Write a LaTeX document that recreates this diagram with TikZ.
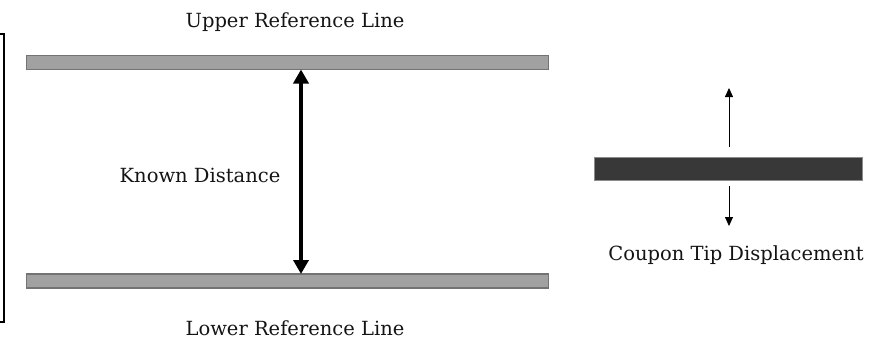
\documentclass[tikz,border=0pt]{standalone}
\usepackage{fontspec}
\setmainfont{DejaVu Serif}
\usetikzlibrary{arrows.meta}
\begin{document}
\begin{tikzpicture}[x=1pt,y=-1pt,
  refbar/.style={draw=black!55,line width=1.5pt,fill=black!37},
  coupon/.style={draw=black!45,line width=1pt,fill=black!78},
  lbl/.style={font=\fontsize{19.5}{22}\selectfont,text=black!92,inner sep=0pt},
  bigarrow/.style={line width=3.5pt,{Triangle[length=14pt,width=15pt]}-{Triangle[length=14pt,width=15pt]}},
  thinarrow/.style={line width=0.8pt,-{Triangle[length=9pt,width=8pt]}}]
\useasboundingbox (0,0) rectangle (892,340);
\draw[line width=1.2pt] (-10,34) -- (4,34) -- (4,322) -- (-10,322);
\node[refbar,minimum width=522pt,minimum height=14pt,inner sep=0pt] (upper) at (287.5,62.5) {};
\node[refbar,minimum width=522pt,minimum height=14pt,inner sep=0pt] (lower) at (287.5,281) {};
\coordinate (ua) at (301,69.5);
\coordinate (la) at (301,274);
\draw[bigarrow] (la) -- (ua);
\node[lbl] (ut) at (295,22) {Upper Reference Line};
\node[lbl] (lt) at (295,328) {Lower Reference Line};
\node[lbl] (kd) at (200,175) {Known Distance};
\node[coupon,minimum width=268pt,minimum height=23pt,inner sep=0pt] (cp) at (728.5,169) {};
\coordinate (up1) at (729,147);
\coordinate (up2) at (729,88);
\coordinate (dn1) at (729,186);
\coordinate (dn2) at (729,226);
\draw[thinarrow] (up1) -- (up2);
\draw[thinarrow] (dn1) -- (dn2);
\node[lbl] (ct) at (736,255) {Coupon Tip Displacement};
\end{tikzpicture}
\end{document}
